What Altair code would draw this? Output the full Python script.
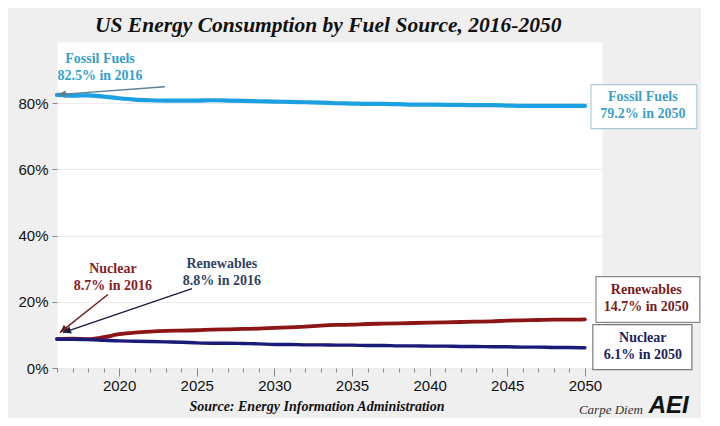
import altair as alt
import pandas as pd

years = list(range(2016, 2051))
fossil = [82.5, 82.3, 82.4, 82.0, 81.5, 81.1, 80.9, 80.8, 80.8, 80.8, 80.9, 80.8, 80.7, 80.6, 80.5,
          80.4, 80.3, 80.2, 80.0, 79.9, 79.8, 79.8, 79.7, 79.6, 79.6, 79.5, 79.5, 79.4, 79.4, 79.3,
          79.2, 79.2, 79.2, 79.2, 79.2]
renewables = [8.8, 8.9, 8.7, 9.3, 10.2, 10.7, 11.0, 11.2, 11.3, 11.4, 11.6, 11.7, 11.8, 11.9, 12.1,
              12.3, 12.5, 12.8, 13.0, 13.1, 13.3, 13.4, 13.5, 13.6, 13.7, 13.8, 13.9, 14.0, 14.1, 14.3,
              14.4, 14.5, 14.6, 14.6, 14.7]
nuclear = [8.7, 8.7, 8.6, 8.4, 8.2, 8.1, 8.0, 7.9, 7.8, 7.6, 7.5, 7.5, 7.4, 7.3, 7.1,
           7.1, 7.0, 7.0, 6.9, 6.9, 6.8, 6.8, 6.7, 6.7, 6.6, 6.6, 6.5, 6.5, 6.4, 6.4,
           6.3, 6.3, 6.2, 6.2, 6.1]

series_names = ["Fossil Fuels", "Renewables", "Nuclear"]
series_colors = ["#1ca0e2", "#8c1616", "#1a1a78"]
y_ticks = [0, 20, 40, 60, 80]

# annotation texts (placed in data units: year, percent of first line)
label_texts = ["Fossil Fuels\n82.5% in 2016", "Nuclear\n8.7% in 2016", "Renewables\n8.8% in 2016",
               "Fossil Fuels\n79.2% in 2050", "Renewables\n14.7% in 2050", "Nuclear\n6.1% in 2050"]
label_x = [2018.77, 2019.6, 2026.62, 2053.73, 2053.95, 2053.73]
label_y = [93.5, 29.8, 31.3, 82.0, 23.6, 9.2]
label_colors = ["#3a9fc9", "#8b2020", "#2f4466", "#3a9fc9", "#7a1c1c", "#22225c"]

box_x = [2050.39, 2050.71, 2050.51]
box_x2 = [2057.21, 2057.40, 2056.89]
box_y = [85.6, 27.6, 13.1]
box_y2 = [72.3, 13.8, -0.5]
box_strokes = ["#a9cbd9", "#8a8a8a", "#7a7a7a"]

arrow_x = [2022.95, 2019.28, 2024.69]
arrow_y = [85.0, 22.2, 24.0]
arrow_x2 = [2016.06, 2016.19, 2016.39]
arrow_y2 = [82.6, 10.7, 10.7]
arrow_angle = [266.5, 231.6, 251.2]
arrow_colors = ["#5a7f95", "#6b1c1c", "#1a1a40"]

rows = []
for name, vals in zip(series_names, [fossil, renewables, nuclear]):
    for yr, v in zip(years, vals):
        rows.append({"year": yr, "share": v, "series": name})
df = pd.DataFrame(rows)

labels_df = pd.DataFrame({"x": label_x, "y": label_y, "t": label_texts, "c": label_colors})
boxes_df = pd.DataFrame({"x": box_x, "x2": box_x2, "y": box_y, "y2": box_y2, "c": box_strokes})
arrows_df = pd.DataFrame({"x": arrow_x, "y": arrow_y, "x2": arrow_x2, "y2": arrow_y2,
                          "a": arrow_angle, "c": arrow_colors})
foot_df = pd.DataFrame({"x": [2032.74], "y": [-11.9], "t": ["Source: Energy Information Administration"]})
carpe_df = pd.DataFrame({"x": [2051.67], "y": [-12.8], "t": ["Carpe Diem"]})
aei_df = pd.DataFrame({"x": [2055.4], "y": [-11.4], "t": ["AEI"]})

xscale = alt.Scale(domain=[2016, 2051.1], nice=False, zero=False)
yscale = alt.Scale(domain=[0, 98.5], nice=False)

x_axis = alt.Axis(values=years, format="d",
                  labelExpr="datum.value % 5 === 0 ? datum.label : ''",
                  domain=False, grid=False,
                  tickSize={"condition": {"test": "datum.value % 5 === 0", "value": 8}, "value": 4},
                  tickColor="#888888", labelFont="Liberation Sans", labelFontSize=15,
                  labelColor="#111111", labelPadding=2, labelOverlap=False, labelFlush=False, title=None)
y_axis = alt.Axis(values=y_ticks, labelExpr="datum.value + '%'", domain=False,
                  tickSize=5, tickColor="#888888", gridColor="#ebebeb",
                  labelFont="Liberation Sans", labelFontSize=15, labelColor="#111111",
                  labelPadding=4, minExtent=45, maxExtent=45, title=None)


def X(field):
    return alt.X(field, scale=xscale, axis=x_axis)


def Y(field):
    return alt.Y(field, scale=yscale, axis=y_axis)


lines = alt.Chart(df).mark_line(interpolate="monotone", strokeCap="round").encode(
    x=X("year:Q"),
    y=Y("share:Q"),
    color=alt.Color("series:N", scale=alt.Scale(domain=series_names, range=series_colors), legend=None),
    strokeWidth=alt.StrokeWidth("series:N", scale=alt.Scale(domain=series_names, range=[4.2, 3.4, 3.4]), legend=None),
)

boxes = alt.Chart(boxes_df).mark_rect(fill="white", strokeWidth=1.2).encode(
    x=X("x:Q"), x2="x2:Q",
    y=Y("y:Q"), y2="y2:Q",
    stroke=alt.Stroke("c:N", scale=None),
)

labels = alt.Chart(labels_df).mark_text(font="Liberation Serif", fontWeight="bold", fontSize=14,
                                        lineBreak="\n", lineHeight=17, align="center", baseline="middle").encode(
    x=X("x:Q"),
    y=Y("y:Q"),
    text="t:N",
    color=alt.Color("c:N", scale=None),
)

arrow_lines = alt.Chart(arrows_df).mark_rule(strokeWidth=1.4).encode(
    x=X("x:Q"), x2="x2:Q",
    y=Y("y:Q"), y2="y2:Q",
    color=alt.Color("c:N", scale=None),
)
arrow_heads = alt.Chart(arrows_df).mark_point(shape="M0,0L-0.75,1.6L0.75,1.6Z", filled=True,
                                              size=100, opacity=1).encode(
    x=X("x2:Q"),
    y=Y("y2:Q"),
    angle=alt.Angle("a:Q", scale=None),
    color=alt.Color("c:N", scale=None),
)

footer = alt.Chart(foot_df).mark_text(font="Liberation Serif", fontWeight="bold", fontStyle="italic",
                                      fontSize=14, color="#111111", baseline="middle").encode(
    x=X("x:Q"), y=Y("y:Q"), text="t:N")
carpe = alt.Chart(carpe_df).mark_text(font="Liberation Serif", fontStyle="italic",
                                      fontSize=13, color="#333333", baseline="middle").encode(
    x=X("x:Q"), y=Y("y:Q"), text="t:N")
aei = alt.Chart(aei_df).mark_text(font="Liberation Sans", fontWeight="bold", fontStyle="italic",
                                  fontSize=24, color="#111111", baseline="middle").encode(
    x=X("x:Q"), y=Y("y:Q"), text="t:N")

chart = alt.layer(lines, arrow_lines, arrow_heads, boxes, labels, footer, carpe, aei).properties(
    width=545, height=326, background="#efefef",
    padding={"left": 4, "top": 6, "right": 0, "bottom": 0},
    title=alt.TitleParams(text="US Energy Consumption by Fuel Source, 2016-2050",
                          font="Liberation Serif", fontSize=21.5, fontStyle="italic", fontWeight="bold",
                          color="#111111", anchor="start", frame="group", dx=38, offset=6),
).configure_view(fill="white", stroke="transparent")

chart.save("out.html", embed_options={"renderer": "svg", "actions": False})
